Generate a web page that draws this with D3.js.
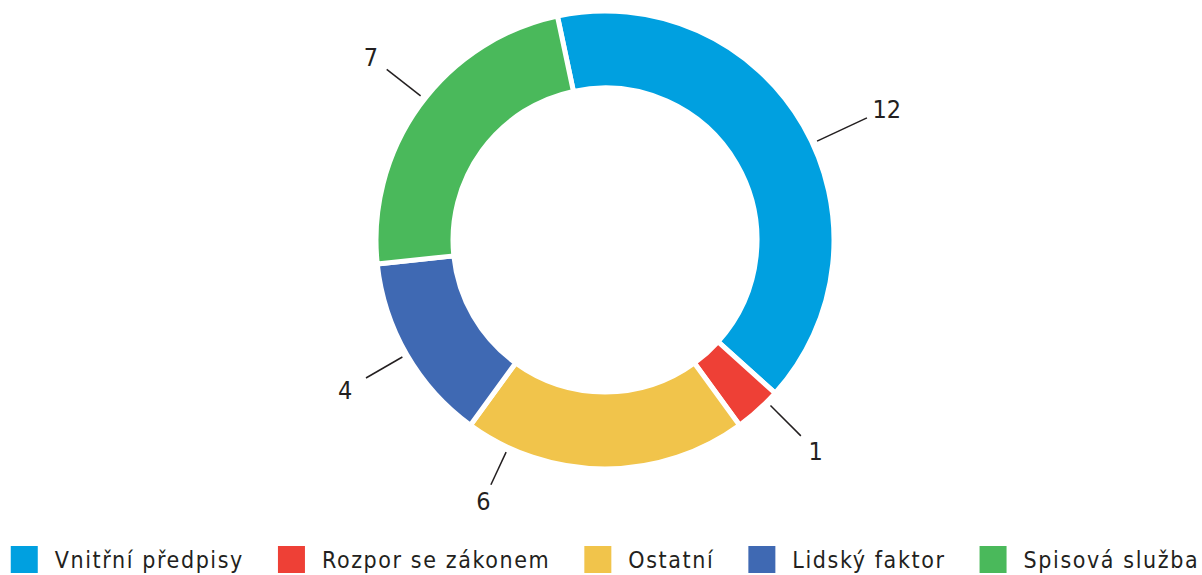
<!DOCTYPE html>
<html>
<head>
<meta charset="utf-8">
<script src="https://cdn.jsdelivr.net/npm/d3@7"></script>
<style>
  html, body { margin: 0; padding: 0; background: #fff; }
  svg { display: block; }
  text { font-family: 'DejaVu Sans Condensed', 'DejaVu Sans', sans-serif; fill: #231f20; }
</style>
</head>
<body>
<div id="chart"></div>
<script>
var categories = ['Vnitřní předpisy', 'Rozpor se zákonem', 'Ostatní', 'Lidský faktor', 'Spisová služba'];
var values = [12, 1, 6, 4, 7];
var colors = ['#00a0e0', '#ee4036', '#f1c44b', '#3f69b3', '#4ab95b'];

var width = 1202;
var height = 575;
var cx = 605;
var cy = 240;
var outerR = 229;
var innerR = 152;
var startDeg = -12;
// hand tweaks so the labels sit where the original put them
var labelStyle = {
    'Vnitřní předpisy': { nudge: 5, end: 289, text: 311 },
    'Rozpor se zákonem': { nudge: -3, end: 277, text: 298 },
    'Ostatní': { nudge: 25, end: 270, text: 288 },
    'Lidský faktor': { nudge: 0, end: 276, text: 300 },
    'Spisová služba': { nudge: 2, end: 277, text: 297 }
};

var data = categories.map(function (c, i) {
    return { name: c, value: values[i], color: colors[i] };
});

var svg = d3.select('#chart')
    .append('svg')
    .attr('width', width)
    .attr('height', height);

var pie = d3.pie()
    .sort(null)
    .value(function (d) { return d.value; })
    .startAngle(startDeg * Math.PI / 180)
    .endAngle((startDeg + 360) * Math.PI / 180);

var arc = d3.arc().innerRadius(innerR).outerRadius(outerR);

var g = svg.append('g').attr('transform', 'translate(' + cx + ',' + cy + ')');

var arcs = pie(data);

g.selectAll('path.slice')
    .data(arcs)
    .enter()
    .append('path')
    .attr('class', 'slice')
    .attr('d', arc)
    .attr('fill', function (d) { return d.data.color; })
    .attr('stroke', '#fff')
    .attr('stroke-width', 5)
    .attr('stroke-linejoin', 'miter');

function midAngle(d) {
    var a = (d.startAngle + d.endAngle) / 2;
    return a + labelStyle[d.data.name].nudge * Math.PI / 180;
}
function polar(a, r) {
    return [Math.sin(a) * r, -Math.cos(a) * r];
}

var lab = g.selectAll('g.lab')
    .data(arcs)
    .enter()
    .append('g')
    .attr('class', 'lab');

lab.append('line')
    .attr('x1', function (d) { return polar(midAngle(d), 234)[0]; })
    .attr('y1', function (d) { return polar(midAngle(d), 234)[1]; })
    .attr('x2', function (d) { return polar(midAngle(d), labelStyle[d.data.name].end)[0]; })
    .attr('y2', function (d) { return polar(midAngle(d), labelStyle[d.data.name].end)[1]; })
    .attr('stroke', '#231f20')
    .attr('stroke-width', 1.5);

lab.append('text')
    .attr('x', function (d) { return polar(midAngle(d), labelStyle[d.data.name].text)[0]; })
    .attr('y', function (d) { return polar(midAngle(d), labelStyle[d.data.name].text)[1]; })
    .attr('dy', '0.36em')
    .attr('text-anchor', 'middle')
    .style('font-size', '25px')
    .text(function (d) { return d.data.value; });

// legend
var legend = svg.append('g').attr('class', 'legend');
var box = 27;
var textGap = 17;
var itemGap = 34;
var items = legend.selectAll('g.item')
    .data(data)
    .enter()
    .append('g')
    .attr('class', 'item');

items.append('rect')
    .attr('width', box)
    .attr('height', box)
    .attr('y', 546)
    .attr('fill', function (d) { return d.color; });

items.append('text')
    .attr('x', box + textGap)
    .attr('y', 568)
    .style('font-size', '23px')
    .style('letter-spacing', '1.6px')
    .text(function (d) { return d.name; });

var xPos = 0;
items.each(function () {
    var it = d3.select(this);
    it.attr('transform', 'translate(' + xPos + ',0)');
    var w = it.select('text').node().getComputedTextLength();
    xPos += box + textGap + w + itemGap;
});
var total = xPos - itemGap;
legend.attr('transform', 'translate(' + (cx - total / 2) + ',0)');
</script>
</body>
</html>
